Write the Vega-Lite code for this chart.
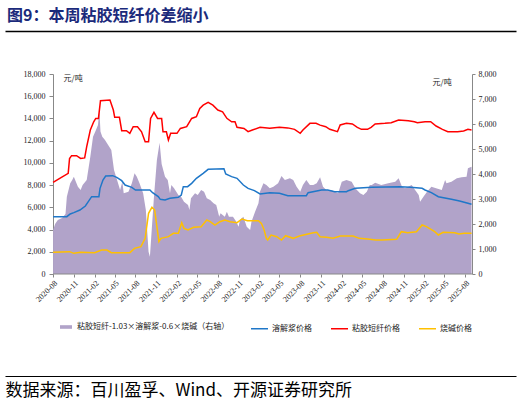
{
  "$schema": "https://vega.github.io/schema/vega-lite/v6.json",
  "width": 511,
  "height": 200,
  "autosize": {"type": "none"},
  "padding": {"left": 5, "top": 74, "right": 5, "bottom": 131},
  "background": "white",
  "config": {
    "view": {"stroke": null},
    "font": "Noto Sans CJK SC",
    "axis": {"grid": false, "labelFlush": false, "labelOverlap": false}
  },
  "title": {
    "text": "图9：本周粘胶短纤价差缩小",
    "anchor": "start",
    "frame": "group",
    "font": "Noto Sans CJK SC",
    "fontSize": 16,
    "fontWeight": "bold",
    "color": "#1b2a7b",
    "offset": 7,
    "dx": 2
  },
  "datasets": {
    "spread": [
      {"date": "2020-08-01", "value": 1760},
      {"date": "2020-08-10", "value": 2000},
      {"date": "2020-08-22", "value": 2160},
      {"date": "2020-09-10", "value": 2240},
      {"date": "2020-09-25", "value": 2400},
      {"date": "2020-10-01", "value": 3090},
      {"date": "2020-10-16", "value": 3630},
      {"date": "2020-10-25", "value": 3760},
      {"date": "2020-11-01", "value": 3890},
      {"date": "2020-11-19", "value": 3490},
      {"date": "2020-12-01", "value": 3360},
      {"date": "2020-12-10", "value": 3560},
      {"date": "2020-12-28", "value": 3760},
      {"date": "2021-01-13", "value": 4690},
      {"date": "2021-01-25", "value": 5490},
      {"date": "2021-02-07", "value": 5760},
      {"date": "2021-02-16", "value": 5960},
      {"date": "2021-02-22", "value": 6560},
      {"date": "2021-02-27", "value": 5700},
      {"date": "2021-03-07", "value": 5490},
      {"date": "2021-03-19", "value": 5360},
      {"date": "2021-03-28", "value": 5230},
      {"date": "2021-04-16", "value": 4960},
      {"date": "2021-04-28", "value": 4160},
      {"date": "2021-05-25", "value": 3360},
      {"date": "2021-06-04", "value": 3690},
      {"date": "2021-06-10", "value": 3230},
      {"date": "2021-07-01", "value": 3290},
      {"date": "2021-07-16", "value": 3630},
      {"date": "2021-07-28", "value": 4030},
      {"date": "2021-08-07", "value": 3890},
      {"date": "2021-08-19", "value": 3630},
      {"date": "2021-09-04", "value": 3230},
      {"date": "2021-09-16", "value": 2560},
      {"date": "2021-09-28", "value": 890},
      {"date": "2021-10-04", "value": 690},
      {"date": "2021-10-10", "value": 1490},
      {"date": "2021-10-22", "value": 3090},
      {"date": "2021-11-04", "value": 4560},
      {"date": "2021-11-16", "value": 5250},
      {"date": "2021-11-25", "value": 4400},
      {"date": "2021-12-10", "value": 3890},
      {"date": "2021-12-22", "value": 3760},
      {"date": "2022-01-01", "value": 3230},
      {"date": "2022-01-07", "value": 3560},
      {"date": "2022-01-19", "value": 3430},
      {"date": "2022-02-07", "value": 3160},
      {"date": "2022-02-19", "value": 3090},
      {"date": "2022-03-04", "value": 2890},
      {"date": "2022-03-22", "value": 2760},
      {"date": "2022-03-28", "value": 2560},
      {"date": "2022-04-04", "value": 3030},
      {"date": "2022-04-22", "value": 3230},
      {"date": "2022-05-04", "value": 3160},
      {"date": "2022-05-19", "value": 3360},
      {"date": "2022-06-01", "value": 3290},
      {"date": "2022-06-13", "value": 3030},
      {"date": "2022-06-28", "value": 2960},
      {"date": "2022-07-13", "value": 2830},
      {"date": "2022-07-25", "value": 2760},
      {"date": "2022-08-07", "value": 2290},
      {"date": "2022-08-13", "value": 2430},
      {"date": "2022-09-01", "value": 2290},
      {"date": "2022-09-10", "value": 2490},
      {"date": "2022-09-19", "value": 2290},
      {"date": "2022-10-07", "value": 2290},
      {"date": "2022-10-22", "value": 2090},
      {"date": "2022-11-01", "value": 1890},
      {"date": "2022-11-07", "value": 2160},
      {"date": "2022-11-22", "value": 2290},
      {"date": "2022-12-07", "value": 1890},
      {"date": "2022-12-22", "value": 1760},
      {"date": "2022-12-28", "value": 2090},
      {"date": "2023-01-13", "value": 2490},
      {"date": "2023-01-28", "value": 2830},
      {"date": "2023-02-04", "value": 3300},
      {"date": "2023-02-19", "value": 3630},
      {"date": "2023-03-04", "value": 3560},
      {"date": "2023-03-19", "value": 3430},
      {"date": "2023-04-04", "value": 3490},
      {"date": "2023-04-25", "value": 3630},
      {"date": "2023-05-10", "value": 3920},
      {"date": "2023-05-25", "value": 3760},
      {"date": "2023-06-16", "value": 3830},
      {"date": "2023-07-01", "value": 3760},
      {"date": "2023-07-16", "value": 3490},
      {"date": "2023-08-01", "value": 3290},
      {"date": "2023-08-13", "value": 3560},
      {"date": "2023-08-28", "value": 3760},
      {"date": "2023-09-13", "value": 3560},
      {"date": "2023-09-28", "value": 3560},
      {"date": "2023-10-13", "value": 3630},
      {"date": "2023-10-28", "value": 3870},
      {"date": "2023-11-10", "value": 3490},
      {"date": "2023-11-25", "value": 3360},
      {"date": "2023-12-16", "value": 3360},
      {"date": "2024-01-01", "value": 3290},
      {"date": "2024-01-16", "value": 3230},
      {"date": "2024-02-01", "value": 3690},
      {"date": "2024-02-22", "value": 3760},
      {"date": "2024-03-16", "value": 3690},
      {"date": "2024-04-01", "value": 3430},
      {"date": "2024-04-22", "value": 3230},
      {"date": "2024-05-07", "value": 3160},
      {"date": "2024-05-22", "value": 3290},
      {"date": "2024-06-04", "value": 3560},
      {"date": "2024-06-13", "value": 3560},
      {"date": "2024-06-28", "value": 3650},
      {"date": "2024-07-25", "value": 3560},
      {"date": "2024-08-25", "value": 3630},
      {"date": "2024-09-25", "value": 3690},
      {"date": "2024-10-10", "value": 3830},
      {"date": "2024-10-25", "value": 3490},
      {"date": "2024-11-07", "value": 3430},
      {"date": "2024-12-07", "value": 3560},
      {"date": "2024-12-22", "value": 3360},
      {"date": "2025-01-07", "value": 3160},
      {"date": "2025-01-13", "value": 2890},
      {"date": "2025-01-28", "value": 3090},
      {"date": "2025-02-13", "value": 3290},
      {"date": "2025-03-04", "value": 3490},
      {"date": "2025-03-25", "value": 3430},
      {"date": "2025-04-19", "value": 3360},
      {"date": "2025-05-04", "value": 3760},
      {"date": "2025-05-10", "value": 3630},
      {"date": "2025-06-01", "value": 3690},
      {"date": "2025-06-25", "value": 3830},
      {"date": "2025-07-16", "value": 3870},
      {"date": "2025-08-07", "value": 3890},
      {"date": "2025-08-13", "value": 4230},
      {"date": "2025-08-29", "value": 4290}
    ],
    "prices": [
      {"date": "2020-08-01", "series": "溶解浆价格", "value": 5160},
      {"date": "2020-10-01", "series": "溶解浆价格", "value": 5160},
      {"date": "2020-10-16", "series": "溶解浆价格", "value": 5400},
      {"date": "2020-11-01", "series": "溶解浆价格", "value": 5520},
      {"date": "2020-11-28", "series": "溶解浆价格", "value": 5760},
      {"date": "2020-12-22", "series": "溶解浆价格", "value": 6120},
      {"date": "2021-01-04", "series": "溶解浆价格", "value": 6510},
      {"date": "2021-01-19", "series": "溶解浆价格", "value": 6960},
      {"date": "2021-02-20", "series": "溶解浆价格", "value": 6960},
      {"date": "2021-02-25", "series": "溶解浆价格", "value": 7710},
      {"date": "2021-03-10", "series": "溶解浆价格", "value": 8460},
      {"date": "2021-03-22", "series": "溶解浆价格", "value": 8820},
      {"date": "2021-04-22", "series": "溶解浆价格", "value": 8850},
      {"date": "2021-05-10", "series": "溶解浆价格", "value": 8700},
      {"date": "2021-06-01", "series": "溶解浆价格", "value": 8400},
      {"date": "2021-06-16", "series": "溶解浆价格", "value": 8010},
      {"date": "2021-07-16", "series": "溶解浆价格", "value": 7800},
      {"date": "2021-08-01", "series": "溶解浆价格", "value": 7560},
      {"date": "2021-10-04", "series": "溶解浆价格", "value": 7560},
      {"date": "2021-10-16", "series": "溶解浆价格", "value": 7320},
      {"date": "2021-11-10", "series": "溶解浆价格", "value": 6960},
      {"date": "2021-11-19", "series": "溶解浆价格", "value": 6720},
      {"date": "2021-12-10", "series": "溶解浆价格", "value": 6660},
      {"date": "2022-01-01", "series": "溶解浆价格", "value": 6810},
      {"date": "2022-02-07", "series": "溶解浆价格", "value": 6900},
      {"date": "2022-02-20", "series": "溶解浆价格", "value": 7110},
      {"date": "2022-03-01", "series": "溶解浆价格", "value": 7860},
      {"date": "2022-03-20", "series": "溶解浆价格", "value": 7860},
      {"date": "2022-04-07", "series": "溶解浆价格", "value": 8160},
      {"date": "2022-04-28", "series": "溶解浆价格", "value": 8610},
      {"date": "2022-05-28", "series": "溶解浆价格", "value": 9060},
      {"date": "2022-06-19", "series": "溶解浆价格", "value": 9420},
      {"date": "2022-08-28", "series": "溶解浆价格", "value": 9480},
      {"date": "2022-09-05", "series": "溶解浆价格", "value": 9000},
      {"date": "2022-10-01", "series": "溶解浆价格", "value": 8760},
      {"date": "2022-10-25", "series": "溶解浆价格", "value": 8610},
      {"date": "2022-11-22", "series": "溶解浆价格", "value": 8010},
      {"date": "2022-12-13", "series": "溶解浆价格", "value": 7710},
      {"date": "2023-01-10", "series": "溶解浆价格", "value": 7500},
      {"date": "2023-02-04", "series": "溶解浆价格", "value": 7200},
      {"date": "2023-03-19", "series": "溶解浆价格", "value": 7320},
      {"date": "2023-05-01", "series": "溶解浆价格", "value": 7260},
      {"date": "2023-06-07", "series": "溶解浆价格", "value": 7050},
      {"date": "2023-08-28", "series": "溶解浆价格", "value": 7050},
      {"date": "2023-09-05", "series": "溶解浆价格", "value": 7320},
      {"date": "2023-11-04", "series": "溶解浆价格", "value": 7560},
      {"date": "2023-12-01", "series": "溶解浆价格", "value": 7560},
      {"date": "2024-01-01", "series": "溶解浆价格", "value": 7410},
      {"date": "2024-02-22", "series": "溶解浆价格", "value": 7410},
      {"date": "2024-03-01", "series": "溶解浆价格", "value": 7500},
      {"date": "2024-04-01", "series": "溶解浆价格", "value": 7710},
      {"date": "2024-06-13", "series": "溶解浆价格", "value": 7800},
      {"date": "2024-10-16", "series": "溶解浆价格", "value": 7860},
      {"date": "2024-12-01", "series": "溶解浆价格", "value": 7800},
      {"date": "2025-01-22", "series": "溶解浆价格", "value": 7710},
      {"date": "2025-02-04", "series": "溶解浆价格", "value": 7560},
      {"date": "2025-03-04", "series": "溶解浆价格", "value": 7320},
      {"date": "2025-04-04", "series": "溶解浆价格", "value": 6960},
      {"date": "2025-06-01", "series": "溶解浆价格", "value": 6720},
      {"date": "2025-07-07", "series": "溶解浆价格", "value": 6570},
      {"date": "2025-08-13", "series": "溶解浆价格", "value": 6360},
      {"date": "2025-08-29", "series": "溶解浆价格", "value": 6270},
      {"date": "2020-08-01", "series": "粘胶短纤价格", "value": 8250},
      {"date": "2020-09-07", "series": "粘胶短纤价格", "value": 8700},
      {"date": "2020-10-07", "series": "粘胶短纤价格", "value": 9060},
      {"date": "2020-10-13", "series": "粘胶短纤价格", "value": 10400},
      {"date": "2020-10-22", "series": "粘胶短纤价格", "value": 10650},
      {"date": "2020-11-13", "series": "粘胶短纤价格", "value": 10650},
      {"date": "2020-12-01", "series": "粘胶短纤价格", "value": 10400},
      {"date": "2020-12-19", "series": "粘胶短纤价格", "value": 10450},
      {"date": "2020-12-28", "series": "粘胶短纤价格", "value": 11460},
      {"date": "2021-01-13", "series": "粘胶短纤价格", "value": 12960},
      {"date": "2021-01-28", "series": "粘胶短纤价格", "value": 13700},
      {"date": "2021-02-06", "series": "粘胶短纤价格", "value": 14000},
      {"date": "2021-02-18", "series": "粘胶短纤价格", "value": 14000},
      {"date": "2021-02-27", "series": "粘胶短纤价格", "value": 15600},
      {"date": "2021-04-10", "series": "粘胶短纤价格", "value": 15660},
      {"date": "2021-04-25", "series": "粘胶短纤价格", "value": 14760},
      {"date": "2021-05-01", "series": "粘胶短纤价格", "value": 14100},
      {"date": "2021-05-22", "series": "粘胶短纤价格", "value": 14100},
      {"date": "2021-06-01", "series": "粘胶短纤价格", "value": 12900},
      {"date": "2021-06-22", "series": "粘胶短纤价格", "value": 12900},
      {"date": "2021-07-07", "series": "粘胶短纤价格", "value": 12660},
      {"date": "2021-07-22", "series": "粘胶短纤价格", "value": 13260},
      {"date": "2021-08-10", "series": "粘胶短纤价格", "value": 13260},
      {"date": "2021-08-28", "series": "粘胶短纤价格", "value": 12800},
      {"date": "2021-09-13", "series": "粘胶短纤价格", "value": 11900},
      {"date": "2021-09-28", "series": "粘胶短纤价格", "value": 11900},
      {"date": "2021-10-07", "series": "粘胶短纤价格", "value": 14000},
      {"date": "2021-10-22", "series": "粘胶短纤价格", "value": 14550},
      {"date": "2021-11-07", "series": "粘胶短纤价格", "value": 14000},
      {"date": "2021-11-25", "series": "粘胶短纤价格", "value": 14000},
      {"date": "2021-12-01", "series": "粘胶短纤价格", "value": 12800},
      {"date": "2021-12-16", "series": "粘胶短纤价格", "value": 12800},
      {"date": "2021-12-25", "series": "粘胶短纤价格", "value": 12060},
      {"date": "2022-01-04", "series": "粘胶短纤价格", "value": 12660},
      {"date": "2022-02-01", "series": "粘胶短纤价格", "value": 12660},
      {"date": "2022-02-16", "series": "粘胶短纤价格", "value": 13100},
      {"date": "2022-03-16", "series": "粘胶短纤价格", "value": 13260},
      {"date": "2022-04-07", "series": "粘胶短纤价格", "value": 14000},
      {"date": "2022-04-28", "series": "粘胶短纤价格", "value": 14160},
      {"date": "2022-05-13", "series": "粘胶短纤价格", "value": 14900},
      {"date": "2022-05-28", "series": "粘胶短纤价格", "value": 15200},
      {"date": "2022-06-19", "series": "粘胶短纤价格", "value": 15450},
      {"date": "2022-07-10", "series": "粘胶短纤价格", "value": 15200},
      {"date": "2022-08-01", "series": "粘胶短纤价格", "value": 14760},
      {"date": "2022-08-22", "series": "粘胶短纤价格", "value": 14600},
      {"date": "2022-09-10", "series": "粘胶短纤价格", "value": 14010},
      {"date": "2022-10-01", "series": "粘胶短纤价格", "value": 13700},
      {"date": "2022-10-16", "series": "粘胶短纤价格", "value": 13700},
      {"date": "2022-10-25", "series": "粘胶短纤价格", "value": 13200},
      {"date": "2022-11-25", "series": "粘胶短纤价格", "value": 13100},
      {"date": "2022-12-13", "series": "粘胶短纤价格", "value": 12810},
      {"date": "2023-01-01", "series": "粘胶短纤价格", "value": 12960},
      {"date": "2023-02-04", "series": "粘胶短纤价格", "value": 13200},
      {"date": "2023-03-19", "series": "粘胶短纤价格", "value": 13110},
      {"date": "2023-05-01", "series": "粘胶短纤价格", "value": 13200},
      {"date": "2023-06-07", "series": "粘胶短纤价格", "value": 13150},
      {"date": "2023-07-07", "series": "粘胶短纤价格", "value": 13020},
      {"date": "2023-08-01", "series": "粘胶短纤价格", "value": 12660},
      {"date": "2023-08-13", "series": "粘胶短纤价格", "value": 12960},
      {"date": "2023-09-13", "series": "粘胶短纤价格", "value": 13560},
      {"date": "2023-10-10", "series": "粘胶短纤价格", "value": 13560},
      {"date": "2023-10-28", "series": "粘胶短纤价格", "value": 13400},
      {"date": "2023-11-22", "series": "粘胶短纤价格", "value": 13260},
      {"date": "2023-12-10", "series": "粘胶短纤价格", "value": 13020},
      {"date": "2024-01-13", "series": "粘胶短纤价格", "value": 12810},
      {"date": "2024-01-25", "series": "粘胶短纤价格", "value": 13410},
      {"date": "2024-02-22", "series": "粘胶短纤价格", "value": 13560},
      {"date": "2024-03-19", "series": "粘胶短纤价格", "value": 13500},
      {"date": "2024-04-10", "series": "粘胶短纤价格", "value": 13200},
      {"date": "2024-04-28", "series": "粘胶短纤价格", "value": 13020},
      {"date": "2024-05-25", "series": "粘胶短纤价格", "value": 13020},
      {"date": "2024-06-10", "series": "粘胶短纤价格", "value": 13200},
      {"date": "2024-06-28", "series": "粘胶短纤价格", "value": 13500},
      {"date": "2024-08-10", "series": "粘胶短纤价格", "value": 13560},
      {"date": "2024-09-07", "series": "粘胶短纤价格", "value": 13620},
      {"date": "2024-10-10", "series": "粘胶短纤价格", "value": 13860},
      {"date": "2024-11-22", "series": "粘胶短纤价格", "value": 13800},
      {"date": "2024-12-19", "series": "粘胶短纤价格", "value": 13710},
      {"date": "2025-01-01", "series": "粘胶短纤价格", "value": 13620},
      {"date": "2025-02-04", "series": "粘胶短纤价格", "value": 13710},
      {"date": "2025-03-01", "series": "粘胶短纤价格", "value": 13710},
      {"date": "2025-03-25", "series": "粘胶短纤价格", "value": 13320},
      {"date": "2025-04-22", "series": "粘胶短纤价格", "value": 13020},
      {"date": "2025-05-16", "series": "粘胶短纤价格", "value": 12810},
      {"date": "2025-06-28", "series": "粘胶短纤价格", "value": 12810},
      {"date": "2025-07-25", "series": "粘胶短纤价格", "value": 12870},
      {"date": "2025-08-13", "series": "粘胶短纤价格", "value": 13020},
      {"date": "2025-08-29", "series": "粘胶短纤价格", "value": 12960},
      {"date": "2020-08-01", "series": "烧碱价格", "value": 1950},
      {"date": "2020-10-13", "series": "烧碱价格", "value": 2010},
      {"date": "2020-11-01", "series": "烧碱价格", "value": 1860},
      {"date": "2020-12-01", "series": "烧碱价格", "value": 1950},
      {"date": "2021-02-01", "series": "烧碱价格", "value": 1920},
      {"date": "2021-03-04", "series": "烧碱价格", "value": 2160},
      {"date": "2021-03-28", "series": "烧碱价格", "value": 2160},
      {"date": "2021-04-16", "series": "烧碱价格", "value": 1920},
      {"date": "2021-07-07", "series": "烧碱价格", "value": 1920},
      {"date": "2021-07-28", "series": "烧碱价格", "value": 2310},
      {"date": "2021-08-25", "series": "烧碱价格", "value": 2460},
      {"date": "2021-09-13", "series": "烧碱价格", "value": 3210},
      {"date": "2021-09-28", "series": "烧碱价格", "value": 5460},
      {"date": "2021-10-13", "series": "烧碱价格", "value": 6000},
      {"date": "2021-10-25", "series": "烧碱价格", "value": 5760},
      {"date": "2021-11-04", "series": "烧碱价格", "value": 4260},
      {"date": "2021-11-13", "series": "烧碱价格", "value": 2910},
      {"date": "2021-11-22", "series": "烧碱价格", "value": 3210},
      {"date": "2021-12-25", "series": "烧碱价格", "value": 3360},
      {"date": "2022-01-16", "series": "烧碱价格", "value": 3660},
      {"date": "2022-02-07", "series": "烧碱价格", "value": 3660},
      {"date": "2022-02-22", "series": "烧碱价格", "value": 4620},
      {"date": "2022-03-04", "series": "烧碱价格", "value": 4110},
      {"date": "2022-03-22", "series": "烧碱价格", "value": 3960},
      {"date": "2022-04-16", "series": "烧碱价格", "value": 4200},
      {"date": "2022-05-19", "series": "烧碱价格", "value": 4260},
      {"date": "2022-06-13", "series": "烧碱价格", "value": 4860},
      {"date": "2022-06-28", "series": "烧碱价格", "value": 4710},
      {"date": "2022-07-19", "series": "烧碱价格", "value": 4410},
      {"date": "2022-08-10", "series": "烧碱价格", "value": 4710},
      {"date": "2022-09-01", "series": "烧碱价格", "value": 4860},
      {"date": "2022-09-25", "series": "烧碱价格", "value": 4710},
      {"date": "2022-10-25", "series": "烧碱价格", "value": 4620},
      {"date": "2022-11-16", "series": "烧碱价格", "value": 4950},
      {"date": "2022-12-10", "series": "烧碱价格", "value": 4800},
      {"date": "2023-01-28", "series": "烧碱价格", "value": 4800},
      {"date": "2023-02-10", "series": "烧碱价格", "value": 4560},
      {"date": "2023-02-22", "series": "烧碱价格", "value": 3960},
      {"date": "2023-03-04", "series": "烧碱价格", "value": 3210},
      {"date": "2023-03-10", "series": "烧碱价格", "value": 3060},
      {"date": "2023-03-25", "series": "烧碱价格", "value": 3510},
      {"date": "2023-04-19", "series": "烧碱价格", "value": 3360},
      {"date": "2023-05-10", "series": "烧碱价格", "value": 3060},
      {"date": "2023-05-28", "series": "烧碱价格", "value": 3450},
      {"date": "2023-07-01", "series": "烧碱价格", "value": 3210},
      {"date": "2023-07-28", "series": "烧碱价格", "value": 3420},
      {"date": "2023-09-28", "series": "烧碱价格", "value": 3720},
      {"date": "2023-10-13", "series": "烧碱价格", "value": 3750},
      {"date": "2023-10-28", "series": "烧碱价格", "value": 3360},
      {"date": "2023-11-25", "series": "烧碱价格", "value": 3300},
      {"date": "2023-12-25", "series": "烧碱价格", "value": 3210},
      {"date": "2024-01-25", "series": "烧碱价格", "value": 3420},
      {"date": "2024-03-22", "series": "烧碱价格", "value": 3420},
      {"date": "2024-04-19", "series": "烧碱价格", "value": 3210},
      {"date": "2024-05-25", "series": "烧碱价格", "value": 3150},
      {"date": "2024-07-01", "series": "烧碱价格", "value": 3060},
      {"date": "2024-07-28", "series": "烧碱价格", "value": 3060},
      {"date": "2024-10-01", "series": "烧碱价格", "value": 3120},
      {"date": "2024-10-22", "series": "烧碱价格", "value": 3810},
      {"date": "2024-11-19", "series": "烧碱价格", "value": 3720},
      {"date": "2024-12-28", "series": "烧碱价格", "value": 3810},
      {"date": "2025-01-22", "series": "烧碱价格", "value": 4410},
      {"date": "2025-02-10", "series": "烧碱价格", "value": 4260},
      {"date": "2025-03-19", "series": "烧碱价格", "value": 3810},
      {"date": "2025-04-04", "series": "烧碱价格", "value": 3510},
      {"date": "2025-04-25", "series": "烧碱价格", "value": 3750},
      {"date": "2025-06-16", "series": "烧碱价格", "value": 3720},
      {"date": "2025-07-04", "series": "烧碱价格", "value": 3600},
      {"date": "2025-07-28", "series": "烧碱价格", "value": 3660},
      {"date": "2025-08-29", "series": "烧碱价格", "value": 3660}
    ]
  },
  "resolve": {
    "scale": {"y": "independent"},
    "axis": {"x": "independent", "y": "independent"}
  },
  "layer": [
    {
      "data": {"name": "spread"},
      "mark": {"type": "area", "opacity": 1},
      "encoding": {
        "x": {
          "field": "date",
          "type": "temporal",
          "scale": {
            "type": "utc",
            "domain": [
              {"year": 2020, "month": 1, "date": 1, "utc": true},
              {"year": 2026, "month": 3, "date": 14, "utc": true}
            ]
          },
          "axis": {
            "orient": "bottom",
            "title": null,
            "domain": false,
            "ticks": true,
            "tickSize": 3,
            "tickColor": "#888888",
            "values": [
              {"year": 2020, "month": 8, "date": 1, "utc": true},
              {"year": 2020, "month": 11, "date": 1, "utc": true},
              {"year": 2021, "month": 2, "date": 1, "utc": true},
              {"year": 2021, "month": 5, "date": 1, "utc": true},
              {"year": 2021, "month": 8, "date": 1, "utc": true},
              {"year": 2021, "month": 11, "date": 1, "utc": true},
              {"year": 2022, "month": 2, "date": 1, "utc": true},
              {"year": 2022, "month": 5, "date": 1, "utc": true},
              {"year": 2022, "month": 8, "date": 1, "utc": true},
              {"year": 2022, "month": 11, "date": 1, "utc": true},
              {"year": 2023, "month": 2, "date": 1, "utc": true},
              {"year": 2023, "month": 5, "date": 1, "utc": true},
              {"year": 2023, "month": 8, "date": 1, "utc": true},
              {"year": 2023, "month": 11, "date": 1, "utc": true},
              {"year": 2024, "month": 2, "date": 1, "utc": true},
              {"year": 2024, "month": 5, "date": 1, "utc": true},
              {"year": 2024, "month": 8, "date": 1, "utc": true},
              {"year": 2024, "month": 11, "date": 1, "utc": true},
              {"year": 2025, "month": 2, "date": 1, "utc": true},
              {"year": 2025, "month": 5, "date": 1, "utc": true},
              {"year": 2025, "month": 8, "date": 1, "utc": true}
            ],
            "labelExpr": "utcFormat(datum.value, '%Y-%m')",
            "labelAngle": -45,
            "labelFont": "Liberation Serif",
            "labelFontSize": 8,
            "labelColor": "#222222",
            "labelPadding": 2
          }
        },
        "y": {
          "field": "value",
          "type": "quantitative",
          "scale": {"domain": [0, 8000]},
          "axis": {
            "orient": "right",
            "offset": -44,
            "values": [0, 1000, 2000, 3000, 4000, 5000, 6000, 7000, 8000],
            "format": ",.0f",
            "domainColor": "#888888",
            "tickColor": "#888888",
            "tickSize": 3,
            "labelPadding": 3,
            "labelFont": "Liberation Serif",
            "labelFontSize": 8,
            "labelColor": "#222222",
            "title": "元/吨",
            "titleAngle": 0,
            "titleX": -40,
            "titleY": 8,
            "titleAlign": "left",
            "titleBaseline": "middle",
            "titleFont": "Noto Sans CJK SC",
            "titleFontSize": 8,
            "titleFontWeight": "normal",
            "titleColor": "#222222"
          }
        },
        "fill": {
          "datum": "粘胶短纤-1.03×溶解浆-0.6×烧碱（右轴）",
          "scale": {"range": ["#b1a3c9"]},
          "legend": {
            "orient": "none",
            "legendX": 55,
            "legendY": 247,
            "title": null,
            "symbolType": "M-1,-0.3H1V0.3H-1Z",
            "symbolSize": 144,
            "symbolStrokeWidth": 0,
            "symbolOpacity": 1,
            "labelFont": "Noto Sans CJK SC",
            "labelFontSize": 8,
            "labelColor": "#222222",
            "labelOffset": 5,
            "labelLimit": 300
          }
        }
      }
    },
    {
      "data": {"name": "prices"},
      "mark": {"type": "line", "strokeWidth": 1.5},
      "encoding": {
        "x": {
          "field": "date",
          "type": "temporal",
          "scale": {
            "type": "utc",
            "domain": [
              {"year": 2020, "month": 1, "date": 1, "utc": true},
              {"year": 2026, "month": 3, "date": 14, "utc": true}
            ]
          },
          "axis": {
            "orient": "top",
            "offset": 43,
            "title": null,
            "domain": true,
            "domainColor": "#000000",
            "domainWidth": 1.5,
            "ticks": false,
            "labels": false
          }
        },
        "y": {
          "field": "value",
          "type": "quantitative",
          "scale": {"domain": [0, 18000]},
          "axis": {
            "orient": "left",
            "offset": -48,
            "values": [0, 2000, 4000, 6000, 8000, 10000, 12000, 14000, 16000, 18000],
            "format": ",.0f",
            "domainColor": "#888888",
            "tickColor": "#888888",
            "tickSize": 4,
            "labelPadding": 4,
            "labelFont": "Liberation Serif",
            "labelFontSize": 8,
            "labelColor": "#222222",
            "title": "元/吨",
            "titleAngle": 0,
            "titleX": 10,
            "titleY": 4,
            "titleAlign": "left",
            "titleBaseline": "middle",
            "titleFont": "Noto Sans CJK SC",
            "titleFontSize": 8,
            "titleFontWeight": "normal",
            "titleColor": "#222222"
          }
        },
        "stroke": {
          "field": "series",
          "type": "nominal",
          "scale": {
            "domain": ["溶解浆价格", "粘胶短纤价格", "烧碱价格"],
            "range": ["#1f77c8", "#ff0000", "#ffc000"]
          },
          "legend": {
            "orient": "none",
            "legendX": 245,
            "legendY": 245,
            "direction": "horizontal",
            "title": null,
            "symbolType": "stroke",
            "symbolSize": 289,
            "symbolStrokeWidth": 1.5,
            "labelFont": "Noto Sans CJK SC",
            "labelFontSize": 8,
            "labelColor": "#222222",
            "labelOffset": 3,
            "columnPadding": 16
          }
        }
      }
    },
    {
      "data": {"values": [{}]},
      "mark": {"type": "rule", "color": "#888888", "strokeWidth": 1},
      "encoding": {
        "x": {
          "datum": {"year": 2020, "month": 8, "date": 1, "utc": true},
          "type": "temporal",
          "scale": {
            "type": "utc",
            "domain": [
              {"year": 2020, "month": 1, "date": 1, "utc": true},
              {"year": 2026, "month": 3, "date": 14, "utc": true}
            ]
          },
          "axis": {
            "orient": "bottom",
            "offset": 102,
            "domain": true,
            "domainColor": "#000000",
            "domainWidth": 1.2,
            "ticks": false,
            "labels": false,
            "title": "数据来源：百川盈孚、Wind、开源证券研究所",
            "titleAnchor": "start",
            "titleAlign": "left",
            "titleBaseline": "top",
            "titlePadding": 6,
            "titleFont": "Noto Sans CJK SC",
            "titleFontSize": 17,
            "titleFontWeight": "normal",
            "titleColor": "#000000"
          }
        },
        "x2": {"datum": {"year": 2025, "month": 8, "date": 31, "utc": true}},
        "y": {"datum": 0, "type": "quantitative", "scale": {"domain": [0, 1]}, "axis": null}
      }
    }
  ]
}
